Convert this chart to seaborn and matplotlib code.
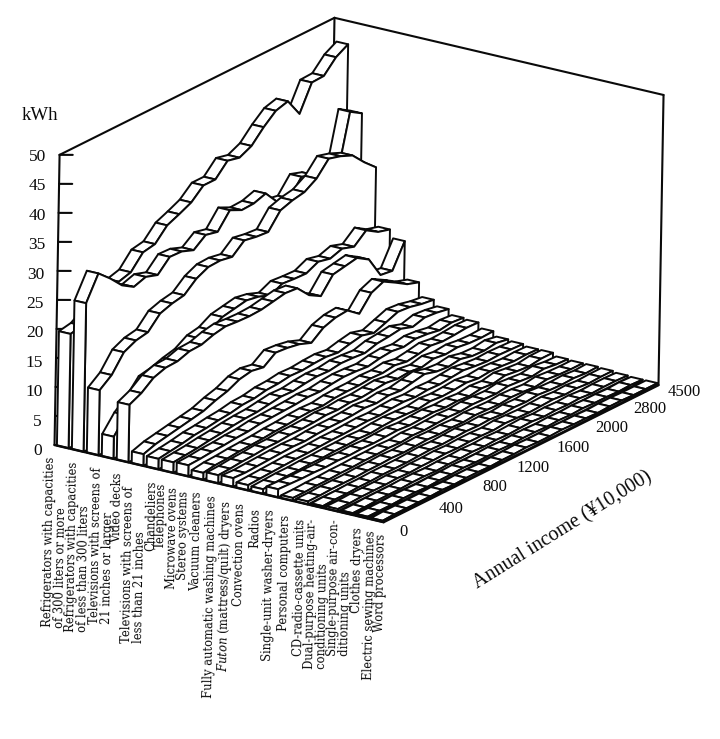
import numpy as np
import matplotlib
matplotlib.use("Agg")
import matplotlib.pyplot as plt
import seaborn as sns
from mpl_toolkits.mplot3d import proj3d
from mpl_toolkits.mplot3d.art3d import Poly3DCollection

categories = [
    "Refrigerators with capacities\nof 300 liters or more",
    "Refrigerators with capacities\nof less than 300 liters",
    "Televisions with screens of\n21 inches or larger",
    "Video decks",
    "Televisions with screens of\nless than 21 inches",
    "Chandeliers", "Telephones", "Microwave ovens", "Stereo systems",
    "Vacuum cleaners", "Fully automatic washing machines",
    r"$\mathit{Futon}$ (mattress/quilt) dryers", "Convection ovens", "Radios",
    "Single-unit washer-dryers", "Personal computers", "CD-radio-cassette units",
    "Dual-purpose heating-air-\nconditioning units",
    "Single-purpose air-con-\nditioning units",
    "Clothes dryers", "Electric sewing machines", "Word processors",
]
income_ticks = ["0", "400", "800", "1200", "1600", "2000", "2800", "4500"]
kwh_ticks = [0, 5, 10, 15, 20, 25, 30, 35, 40, 45, 50]

refrigerators_large = [19.7, 20.1, 21.5, 23.0, 24.6, 25.2, 27.6, 28.0, 30.2, 31.1, 32.1, 34.0, 34.0, 36.2, 35.7, 36.7, 38.9, 40.7, 41.3, 38.1, 42.5, 42.6, 44.8, 46.0]
refrigerators_small = [25.6, 29.7, 27.8, 25.6, 24.3, 25.0, 24.3, 26.4, 26.3, 25.5, 27.1, 26.6, 29.3, 28.3, 28.4, 29.1, 26.6, 26.2, 28.9, 28.2, 26.0, 26.0, 36.0, 34.7]
tv_large = [11.2, 12.8, 15.7, 16.7, 17.1, 19.3, 20.0, 20.4, 22.2, 23.2, 23.3, 22.9, 24.7, 24.3, 24.1, 26.8, 27.5, 27.9, 29.2, 31.6, 31.0, 30.1, 27.9, 26.0]
video_decks = [3.8, 6.5, 8.3, 10.7, 11.1, 11.8, 12.3, 13.6, 14.0, 15.2, 15.6, 16.0, 15.6, 14.8, 15.8, 15.6, 15.5, 16.5, 16.0, 16.7, 16.0, 17.8, 16.5, 15.9]
tv_small = [9.9, 10.9, 12.5, 13.2, 13.3, 14.0, 14.1, 14.8, 15.2, 15.0, 14.9, 15.0, 15.4, 15.8, 15.6, 13.4, 12.2, 14.9, 15.3, 15.7, 14.4, 10.7, 10.4, 14.5]
chandeliers = [2.0, 2.7, 3.1, 3.5, 3.9, 4.3, 5.1, 5.7, 6.7, 7.1, 6.7, 8.2, 8.0, 7.6, 6.8, 8.4, 9.1, 9.3, 7.7, 10.3, 11.2, 10.0, 8.7, 8.0]
telephones = [1.8, 2.1, 2.4, 2.8, 3.0, 3.3, 3.5, 3.9, 4.0, 4.4, 4.5, 4.8, 4.7, 4.9, 5.0, 4.7, 5.2, 5.6, 5.0, 5.8, 6.6, 6.4, 5.9, 5.6]
microwave_ovens = [1.8, 2.0, 2.2, 2.5, 2.7, 3.0, 3.2, 3.3, 3.6, 3.9, 3.8, 4.1, 4.3, 4.2, 4.5, 4.4, 4.2, 4.8, 5.0, 5.3, 4.6, 5.2, 5.0, 4.6]
stereo_systems = [1.9, 2.0, 2.2, 2.3, 2.5, 2.6, 2.9, 3.0, 3.1, 3.2, 3.4, 3.3, 3.6, 3.8, 3.7, 3.5, 3.9, 4.1, 3.8, 4.2, 4.0, 3.6, 3.9, 3.7]
vacuum_cleaners = [1.2, 1.5, 1.6, 1.8, 1.9, 2.0, 2.2, 2.3, 2.5, 2.6, 2.5, 2.8, 2.9, 2.9, 3.1, 3.0, 3.3, 2.9, 3.2, 3.6, 3.3, 3.4, 3.6, 3.5]
washing_machines = [1.4, 1.5, 1.7, 1.8, 2.0, 2.0, 2.2, 2.2, 2.3, 2.5, 2.4, 2.6, 2.5, 2.7, 2.9, 2.6, 2.8, 2.5, 3.0, 2.7, 2.9, 2.6, 2.5, 2.6]
futon_dryers = [1.5, 1.4, 1.5, 1.6, 1.7, 1.8, 1.7, 1.9, 2.0, 2.0, 2.1, 2.3, 2.1, 2.4, 2.2, 2.6, 3.0, 2.4, 2.2, 2.5, 2.0, 1.9, 2.2, 1.8]
convection_ovens = [0.9, 1.0, 1.1, 1.2, 1.3, 1.3, 1.4, 1.5, 1.5, 1.6, 1.7, 1.6, 1.8, 1.9, 1.7, 1.9, 1.8, 2.0, 2.2, 1.9, 1.7, 1.8, 1.7, 1.6]
radios = [0.8, 0.9, 1.0, 1.0, 1.1, 1.1, 1.2, 1.2, 1.3, 1.2, 1.4, 1.5, 1.4, 1.3, 1.6, 1.4, 1.5, 1.7, 1.4, 1.6, 1.5, 1.3, 1.4, 1.3]
washer_dryers = [1.4, 1.3, 1.2, 1.2, 1.1, 1.2, 1.1, 1.2, 1.1, 1.2, 1.3, 1.1, 1.2, 1.3, 1.1, 1.2, 1.0, 1.3, 1.1, 1.5, 1.2, 1.0, 1.3, 1.3]
personal_computers = [0.5, 0.5, 0.6, 0.6, 0.7, 0.7, 0.8, 0.8, 0.9, 0.8, 1.0, 0.9, 1.0, 1.1, 1.0, 1.2, 1.1, 1.0, 1.3, 1.1, 0.9, 1.2, 0.9, 0.8]
cd_cassette = [0.5, 0.5, 0.6, 0.6, 0.6, 0.7, 0.7, 0.8, 0.7, 0.8, 0.9, 0.8, 0.9, 0.8, 1.0, 0.9, 0.8, 1.0, 0.9, 0.7, 1.0, 0.8, 0.7, 0.7]
dual_aircon = [0.3, 0.4, 0.4, 0.5, 0.5, 0.6, 0.6, 0.6, 0.7, 0.8, 0.7, 0.8, 0.9, 0.8, 0.9, 0.7, 0.9, 0.8, 1.0, 0.8, 0.7, 0.8, 0.6, 0.7]
single_aircon = [0.4, 0.4, 0.5, 0.5, 0.5, 0.6, 0.5, 0.6, 0.6, 0.7, 0.6, 0.7, 0.7, 0.6, 0.8, 0.7, 0.6, 0.7, 0.8, 0.6, 0.7, 0.5, 0.6, 0.6]
clothes_dryers = [0.3, 0.3, 0.4, 0.4, 0.4, 0.5, 0.5, 0.4, 0.5, 0.5, 0.6, 0.5, 0.6, 0.5, 0.6, 0.7, 0.5, 0.6, 0.5, 0.6, 0.4, 0.5, 0.5, 0.4]
sewing_machines = [0.3, 0.3, 0.3, 0.4, 0.4, 0.3, 0.4, 0.4, 0.5, 0.4, 0.4, 0.5, 0.4, 0.5, 0.5, 0.4, 0.5, 0.4, 0.5, 0.4, 0.4, 0.3, 0.4, 0.3]
word_processors = [0.2, 0.3, 0.3, 0.3, 0.3, 0.4, 0.3, 0.4, 0.4, 0.3, 0.4, 0.4, 0.5, 0.4, 0.4, 0.5, 0.4, 0.4, 0.3, 0.4, 0.4, 0.3, 0.3, 0.3]

series = [refrigerators_large, refrigerators_small, tv_large, video_decks, tv_small,
          chandeliers, telephones, microwave_ovens, stereo_systems, vacuum_cleaners,
          washing_machines, futon_dryers, convection_ovens, radios, washer_dryers,
          personal_computers, cd_cassette, dual_aircon, single_aircon, clothes_dryers,
          sewing_machines, word_processors]

# layout (separate from the data)
label_px = [54, 78, 101, 117, 134, 151, 161, 172, 183, 196, 210, 225, 239, 255, 269, 285, 300, 317, 340, 358, 370, 381]
label_gap = [12, 11, 11, 13, 22, 13, 13, 14, 16, 13, 14, 15, 15, 16, 14, 16, 16, 12, 7, 11, 11, 12]
income_pos = [0, 3.95, 7.6, 10.8, 14.2, 17.4, 20.6, 23.5]

sns.set_theme(style="white")
plt.rcParams["font.family"] = ["Liberation Serif", "DejaVu Serif"]
plt.rcParams["mathtext.fontset"] = "custom"
plt.rcParams["mathtext.it"] = "DejaVu Serif:italic"
plt.rcParams["mathtext.rm"] = "DejaVu Serif"

INK = "#0a0a0a"
fig = plt.figure(figsize=(7.2, 7.39), dpi=100, facecolor="white")
ax = fig.add_axes([-10.7 / 720, 99.3 / 739, 1, 720 / 739], projection="3d")
ax.computed_zorder = False
ax.set_proj_type("ortho")
ax.view_init(elev=19.6, azim=-57.2, roll=-1.0)
ax.set_box_aspect((393, 503, 308), zoom=0.9556)
n_cat = len(series)
n_inc = len(series[0])
ax.set_xlim(0, n_cat)
ax.set_ylim(0, n_inc - 1)
ax.set_zlim(0, 50)
ax.set_axis_off()

half = 0.39
for i, vals in enumerate(series):
    xl, xr = i + 0.55 - half, i + 0.55 + half
    tops = [[(xl, j, vals[j]), (xr, j, vals[j]), (xr, j + 1, vals[j + 1]), (xl, j + 1, vals[j + 1])]
            for j in range(n_inc - 1)]
    c = Poly3DCollection(tops, facecolors="white", edgecolors=INK, linewidths=1.4, zsort="average")
    ax.add_collection3d(c, autolim=False)
    c.set_zorder(10 + 2 * i)
    wall = [(xr, j, v) for j, v in enumerate(vals)] + [(xr, n_inc - 1, 0), (xr, 0, 0)]
    cap = [(xl, 0, 0), (xr, 0, 0), (xr, 0, vals[0]), (xl, 0, vals[0])]
    w = Poly3DCollection([wall, cap], facecolors="white", edgecolors=INK, linewidths=1.4)
    ax.add_collection3d(w, autolim=False)
    w.set_zorder(11 + 2 * i)

xm, ym = n_cat, n_inc - 1
frame = dict(color=INK, lw=1.5)
# back walls (behind the ribbons)
ax.plot([0, 0], [0, 0], [0, 50], zorder=2, **frame)
ax.plot([0, 0], [0, ym], [50, 50], zorder=2, **frame)
ax.plot([0, xm], [ym, ym], [50, 50], zorder=2, **frame)
ax.plot([0, 0], [ym, ym], [0, 50], zorder=2, **frame)
ax.plot([xm, xm], [ym, ym], [0, 50], zorder=2, **frame)
# floor edges in front
ax.plot([0, xm], [0, 0], [0, 0], zorder=100, color=INK, lw=1.8)
ax.plot([xm, xm], [0, ym], [0, 0], zorder=100, color=INK, lw=1.8)
for z in kwh_ticks[1:]:
    ax.plot([0, 0.6], [0, 0.35], [z, z], zorder=3, color=INK, lw=1.5)


def place(x, y, z, text, dx, dy, **kw):
    px, py, _ = proj3d.proj_transform(x, y, z, ax.get_proj())
    ax.annotate(text, xy=(px, py), xycoords="data", xytext=(dx, dy),
                textcoords="offset pixels", annotation_clip=False, color=INK, **kw)


for z in kwh_ticks:
    place(0, 0, z, str(z), -13, -2 - (50 - z) * 0.08, ha="right", va="center", fontsize=12.5)
place(0, 0, 50, "kWh", -20, 39, ha="center", va="center", fontsize=13.5)

for name, px, gap in zip(categories, label_px, label_gap):
    place((px - 54) / 15, 0, 0, name, 0, -gap, ha="center", va="top", rotation=89,
          multialignment="left", fontsize=8.3, linespacing=0.9, family="DejaVu Serif")

for lab, pos in zip(income_ticks, income_pos):
    place(n_cat, pos, 0, lab, 20, -10, ha="center", va="center", fontsize=12)

place(n_cat, 11.5, 0, "Annual income (¥10,000)", 42, -77, ha="center", va="center",
      rotation=32, rotation_mode="anchor", fontsize=14.5)

fig.savefig("out.png", dpi=100, facecolor="white")
